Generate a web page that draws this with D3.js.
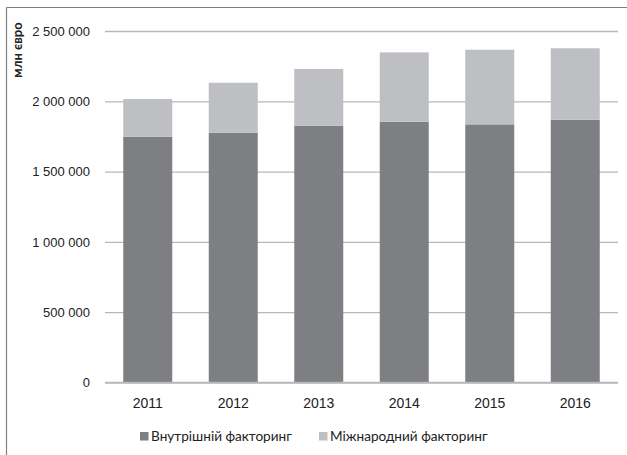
<!DOCTYPE html>
<html>
<head>
<meta charset="utf-8">
<script src="https://cdn.jsdelivr.net/npm/d3@7"></script>
<style>
  body { margin: 0; background: #fff; }
  svg { display: block; font-family: Lato, "Open Sans", sans-serif; }
</style>
</head>
<body>
<svg id="chart" width="627" height="455"></svg>
<script>
const years = ['2011', '2012', '2013', '2014', '2015', '2016'];
const domestic = [1748000, 1777000, 1827000, 1855000, 1836000, 1869000];
const international = [268000, 355000, 403000, 493000, 531000, 508000];
const yTicks = [0, 500000, 1000000, 1500000, 2000000, 2500000];
const seriesNames = ['Внутрішній факторинг', 'Міжнародний факторинг'];
const colors = ['#7e7f83', '#bebfc2'];

const width = 627;
const height = 455;
const margin = { top: 31, right: 9, bottom: 72.5, left: 105 };
const innerWidth = width - margin.left - margin.right;
const innerHeight = height - margin.top - margin.bottom;

const svg = d3.select('#chart');

// frame: only top and left edges show in the crop
svg.append('line')
  .attr('x1', 6.5).attr('x2', width).attr('y1', 7.5).attr('y2', 7.5)
  .attr('stroke', '#808080').attr('stroke-width', 1.2);
svg.append('line')
  .attr('x1', 6.5).attr('x2', 6.5).attr('y1', 7.5).attr('y2', height)
  .attr('stroke', '#808080').attr('stroke-width', 1.2);

const x = d3.scaleBand()
  .domain(years)
  .range([0, innerWidth])
  .paddingInner(0.427)
  .paddingOuter(0.2135);

const y = d3.scaleLinear()
  .domain([0, 2500000])
  .range([innerHeight, 0]);

const chart = svg.append('g')
  .attr('transform', `translate(${margin.left},${margin.top})`);

const fmt = v => d3.format(',')(v).replace(/,/g, '\u00a0');

// Gridlines + y labels
const yAxis = chart.append('g')
  .call(d3.axisLeft(y).tickValues(yTicks).tickSize(-innerWidth).tickPadding(15).tickFormat(fmt));
yAxis.select('.domain').remove();
yAxis.selectAll('line').attr('stroke', '#b8b8b8').attr('stroke-width', 1.3);
yAxis.selectAll('text').attr('fill', '#222').attr('font-size', 13);

// Stacked bars
const rows = years.map((yr, i) => ({ year: yr, domestic: domestic[i], international: international[i] }));
const stacked = d3.stack().keys(['domestic', 'international'])(rows);

chart.selectAll('.series')
  .data(stacked)
  .enter()
  .append('g')
  .attr('fill', (d, i) => colors[i])
  .selectAll('rect')
  .data(d => d)
  .enter()
  .append('rect')
  .attr('x', d => x(d.data.year))
  .attr('y', d => y(d[1]))
  .attr('width', x.bandwidth())
  .attr('height', d => y(d[0]) - y(d[1]));

// baseline drawn above bars
chart.append('line')
  .attr('x1', 0).attr('x2', innerWidth)
  .attr('y1', y(0)).attr('y2', y(0))
  .attr('stroke', '#b8b8b8').attr('stroke-width', 1.3);

// X labels
const xAxis = chart.append('g')
  .attr('transform', `translate(0,${innerHeight})`)
  .call(d3.axisBottom(x).tickSize(0).tickPadding(16));
xAxis.select('.domain').remove();
xAxis.selectAll('text').attr('fill', '#222').attr('font-size', 14);

// Y axis title
svg.append('text')
  .attr('transform', 'translate(21.5,50) rotate(-90)')
  .attr('text-anchor', 'middle')
  .attr('font-size', 13)
  .attr('font-weight', 'bold')
  .attr('fill', '#222')
  .text('млн євро');

// Legend
const legendX = [140, 319];
const legend = svg.append('g');
seriesNames.forEach((name, i) => {
  legend.append('rect')
    .attr('x', legendX[i]).attr('y', 432)
    .attr('width', 8.5).attr('height', 8.5)
    .attr('fill', colors[i]);
  legend.append('text')
    .attr('x', legendX[i] + 11).attr('y', 441)
    .attr('font-size', 13.6)
    .attr('fill', '#222')
    .text(name);
});
</script>
</body>
</html>
